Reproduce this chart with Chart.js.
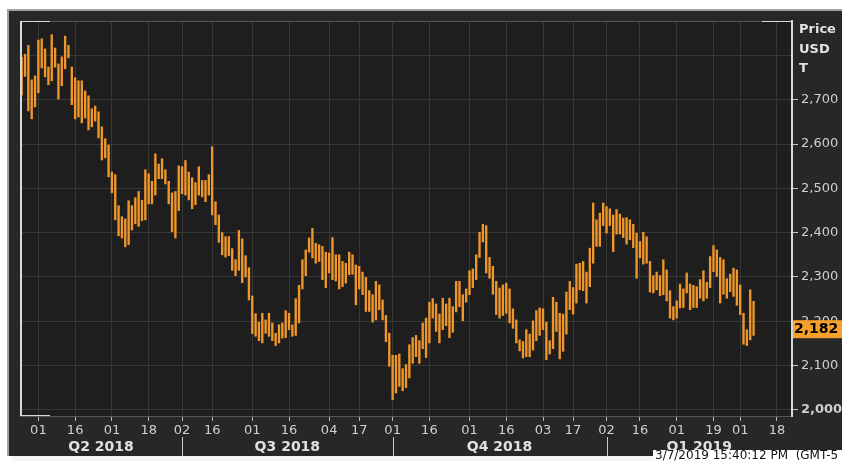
<!DOCTYPE html>
<html>
<head>
<meta charset="utf-8">
<script src="https://cdn.jsdelivr.net/npm/chart.js@4.4.1/dist/chart.umd.min.js"></script>
<style>
  html, body { margin: 0; padding: 0; background: #fff; }
  canvas { display: block; }
</style>
</head>
<body>
<canvas id="c" width="842" height="461"></canvas>
<script>
// daily high / low, one bar per trading day (late Mar 2018 -> 7 Mar 2019)
const lows = [2711,2753,2675,2657,2684,2716,2772,2752,2734,2743,
  2774,2702,2732,2770,2795,2689,2657,2661,2648,2659,
  2632,2639,2652,2614,2564,2569,2526,2490,2429,2393,
  2388,2368,2373,2406,2420,2414,2427,2429,2465,2465,
  2485,2522,2522,2510,2465,2402,2388,2450,2488,2485,
  2474,2454,2463,2485,2481,2470,2485,2440,2418,2378,
  2350,2345,2348,2315,2303,2315,2287,2300,2248,2172,
  2166,2156,2151,2173,2166,2156,2145,2151,2162,2163,
  2181,2166,2168,2196,2273,2303,2356,2343,2331,2335,
  2294,2276,2309,2294,2291,2273,2278,2286,2305,2306,
  2237,2273,2260,2222,2222,2198,2203,2226,2203,2154,
  2098,2023,2038,2053,2043,2050,2072,2105,2120,2105,
  2138,2118,2151,2207,2177,2151,2181,2190,2163,2175,
  2221,2233,2201,2243,2260,2276,2294,2344,2379,2309,
  2297,2261,2215,2207,2213,2218,2196,2184,2151,2133,
  2117,2120,2120,2135,2156,2168,2181,2113,2126,2138,
  2177,2115,2132,2171,2226,2216,2241,2271,2269,2241,
  2278,2331,2369,2369,2416,2399,2416,2357,2397,2397,
  2389,2374,2384,2366,2297,2343,2329,2331,2266,2264,
  2271,2258,2260,2246,2207,2203,2207,2230,2231,2264,
  2226,2231,2231,2252,2246,2252,2276,2312,2301,2241,
  2261,2252,2267,2256,2236,2215,2148,2145,2158,2168];
const highs = [2796,2803,2823,2745,2754,2835,2838,2815,2774,2847,
  2817,2781,2797,2844,2823,2774,2750,2743,2743,2720,
  2709,2680,2686,2673,2639,2612,2598,2537,2531,2461,
  2436,2431,2472,2461,2479,2493,2473,2542,2533,2516,
  2578,2555,2567,2542,2516,2490,2493,2551,2549,2563,
  2537,2524,2513,2549,2518,2518,2531,2594,2470,2440,
  2400,2391,2391,2364,2339,2405,2386,2348,2321,2257,
  2217,2198,2218,2203,2218,2196,2173,2192,2196,2224,
  2218,2192,2251,2281,2339,2361,2388,2410,2376,2373,
  2369,2356,2354,2389,2350,2350,2335,2331,2356,2350,
  2327,2324,2311,2299,2269,2260,2290,2282,2248,2213,
  2173,2123,2123,2126,2093,2102,2147,2163,2168,2156,
  2196,2207,2243,2251,2239,2216,2252,2239,2252,2233,
  2290,2290,2260,2273,2314,2318,2350,2401,2419,2416,
  2344,2324,2290,2275,2282,2286,2273,2228,2203,2158,
  2154,2181,2171,2201,2224,2230,2228,2198,2156,2254,
  2243,2218,2216,2266,2290,2276,2329,2331,2335,2311,
  2365,2467,2429,2444,2467,2459,2454,2440,2452,2442,
  2433,2434,2429,2419,2399,2380,2401,2391,2335,2303,
  2311,2303,2339,2316,2269,2233,2246,2284,2273,2309,
  2284,2281,2278,2294,2314,2288,2346,2371,2361,2344,
  2339,2296,2306,2320,2316,2282,2218,2181,2271,2245];

const totalDays = 231; // trading days on the axis, incl. empty space after last bar
const tickDays = ['01','16','01','18','02','16','01','16','04','17','01','16','01','16','03','17','02','16','01','19','01','18'];
const tickBars = [5,16,27,38,48,57,69,80,92,101,111,122,134,145,156,165,175,185,196,207,215,226];
const quarterNames = ['Q2 2018','Q3 2018','Q4 2018','Q1 2019'];
const quarterBreaks = [48,111,175];
const priceTicks = [2000,2100,2200,2300,2400,2500,2600,2700,2800];
const unitLines = ['Price','USD','T'];
const lastPrice = 2182;
const stampText = '3/7/2019 15:40:12 PM  (GMT-5';

const FONT = "'DejaVu Sans', Verdana, sans-serif";
Chart.defaults.font.family = FONT;

const days = Array.from({ length: totalDays }, (_, i) => String(i));
const bars = lows.map((lo, i) => [lo, highs[i]]);

// fond, cadre, titres et étiquette du dernier cours
const framePlugin = {
  id: 'frame',
  beforeDraw(chart) {
    const { ctx, chartArea: a, width, height } = chart;
    ctx.save();
    ctx.fillStyle = '#ffffff';
    ctx.fillRect(0, 0, width, height);
    ctx.fillStyle = '#262826';
    ctx.fillRect(8, 10, width - 8, 446);
    ctx.fillStyle = '#a0a0a0';
    ctx.fillRect(7, 9, width - 7, 2);
    ctx.fillRect(7, 9, 2, 447);
    ctx.fillStyle = '#1d1e1d';
    ctx.fillRect(a.left, a.top, a.right - a.left, a.bottom - a.top);
    ctx.restore();
  },
  afterDraw(chart) {
    const { ctx, chartArea: a, scales } = chart;
    const x = scales.x, y = scales.y;
    ctx.save();

    // bords du graphique
    ctx.fillStyle = '#555755';
    ctx.fillRect(a.left, a.top, a.right - a.left, 1);
    ctx.fillStyle = '#d8d8d8';
    ctx.fillRect(a.left, a.top, 2, a.bottom - a.top);
    ctx.fillRect(a.left, a.top, 30, 1);
    ctx.fillRect(a.left, a.bottom - 1, 30, 1);
    ctx.fillRect(a.right - 30, a.top, 30, 1);

    // titre de l'axe des prix
    ctx.fillStyle = '#e2e2e2';
    ctx.font = 'bold 13px ' + FONT;
    ctx.textAlign = 'left';
    ctx.textBaseline = 'middle';
    unitLines.forEach((t, i) => ctx.fillText(t, 799, 30 + i * 19.5));

    // trimestres
    const edges = [a.left, ...quarterBreaks.map(b => x.getPixelForValue(b)), a.right];
    ctx.strokeStyle = '#c8c8c8';
    ctx.lineWidth = 1;
    quarterBreaks.forEach(b => {
      const px = Math.round(x.getPixelForValue(b)) + 0.5;
      ctx.beginPath();
      ctx.moveTo(px, 437);
      ctx.lineTo(px, 456);
      ctx.stroke();
    });
    ctx.fillStyle = '#e0e0e0';
    ctx.font = 'bold 14px ' + FONT;
    ctx.textAlign = 'center';
    quarterNames.forEach((q, i) => ctx.fillText(q, (edges[i] + edges[i + 1]) / 2, 447));

    // dernier cours
    const py = y.getPixelForValue(lastPrice);
    ctx.fillStyle = '#f5a02a';
    ctx.fillRect(a.right + 1, py - 9, chart.width - a.right, 18);
    ctx.fillStyle = '#000';
    ctx.font = 'bold 14px ' + FONT;
    ctx.textAlign = 'left';
    ctx.fillText(lastPrice.toLocaleString('en-US'), 794, py + 0.5);

    // bas de page et horodatage
    ctx.fillStyle = '#f4f4f4';
    ctx.fillRect(12, 456, chart.width - 12, 5);
    ctx.fillStyle = '#ffffff';
    ctx.fillRect(653, 450, chart.width - 653, 11);
    ctx.fillStyle = '#111';
    ctx.font = '12px ' + FONT;
    ctx.textBaseline = 'top';
    ctx.fillText(stampText, 655, 450);
    ctx.restore();
  }
};

new Chart(document.getElementById('c'), {
  type: 'bar',
  data: {
    labels: days,
    datasets: [{
      data: bars,
      backgroundColor: '#f0972c',
      borderWidth: 0,
      barThickness: 1.7
    }]
  },
  options: {
    responsive: false,
    animation: false,
    layout: { padding: { left: 20, top: 21, right: 0, bottom: 0 } },
    plugins: { legend: { display: false }, tooltip: { enabled: false } },
    scales: {
      x: {
        type: 'category',
        offset: true,
        afterBuildTicks: (scale) => { scale.ticks = tickBars.map(v => ({ value: v })); },
        afterFit: (scale) => { scale.height = 45; },
        grid: { offset: false, color: '#363836', tickColor: '#b8b8b8', tickLength: 5 },
        border: { color: '#555755' },
        ticks: {
          autoSkip: false,
          maxRotation: 0,
          padding: 2,
          color: '#d0d0d0',
          font: { size: 13 },
          callback: (v, i) => tickDays[i]
        }
      },
      y: {
        position: 'right',
        min: 1986,
        max: 2878,
        afterBuildTicks: (scale) => { scale.ticks = priceTicks.map(v => ({ value: v })); },
        afterFit: (scale) => { scale.width = 50; },
        grid: {
          color: '#363836',
          tickLength: 6,
          tickColor: (c) => (c.tick && c.tick.value === 2800 ? 'rgba(0,0,0,0)' : '#c8c8c8')
        },
        border: { color: '#d8d8d8', width: 2 },
        ticks: {
          padding: 3,
          color: '#cfcfcf',
          font: (c) => ({ size: 13, weight: c.tick && c.tick.value === 2000 ? 'bold' : 'normal' }),
          callback: (v) => (v === 2800 ? '' : v.toLocaleString('en-US'))
        }
      }
    }
  },
  plugins: [framePlugin]
});
</script>
</body>
</html>
